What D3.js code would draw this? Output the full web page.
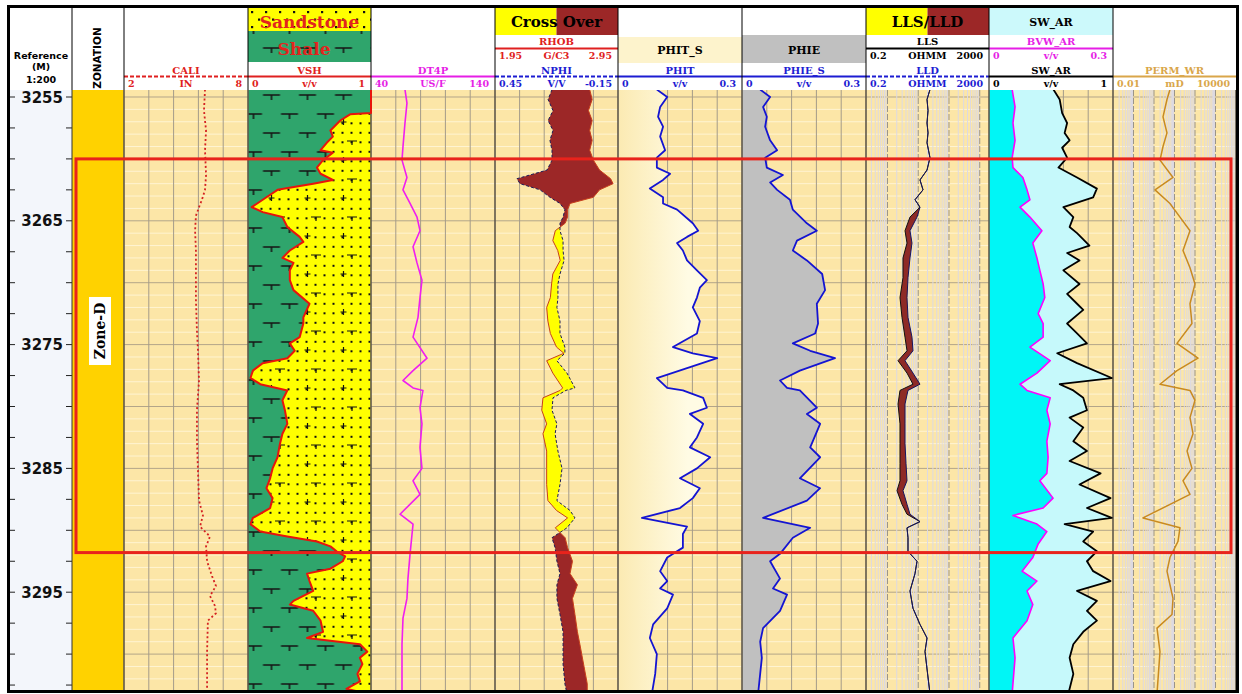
<!DOCTYPE html>
<html>
<head>
<meta charset="utf-8">
<title>Zone-D log plot</title>
<script src="https://cdn.jsdelivr.net/npm/d3@7/dist/d3.min.js"></script>
<style>
  body { margin: 0; background: #ffffff; }
  svg { display: block; }
  .serif { font-family: "DejaVu Serif", serif; font-weight: bold; }
  .sans { font-family: "DejaVu Sans", sans-serif; font-weight: bold; }
</style>
</head>
<body>
<div id="log"></div>
<script>
// ---- data (depth in m) ----
const depthLabels = [3255, 3265, 3275, 3285, 3295]
const zoneNames = ['Zone-D']
const zoneLabelDepth = [3273.9]
const redBoxTop = 3260.0, redBoxBase = 3291.8

const caliDepth = [3254.4,3256.1,3257.7,3259.3,3261.3,3262.5,3263.3,3263.9,3264.6,3265.8,3267.4,3269.0,3271.4,3273.9,3275.5,3277.9,3280.3,3282.8,3285.2,3287.6,3288.8,3289.7,3290.5,3291.3,3292.5,3293.7,3294.5,3295.3,3296.1,3296.7,3297.3,3299.8,3303.2]
const caliValue = [5.92,5.87,5.97,5.92,5.97,5.92,5.77,5.63,5.48,5.44,5.48,5.48,5.48,5.53,5.58,5.63,5.53,5.53,5.58,5.63,5.82,5.68,6.16,5.97,6.02,6.26,6.45,6.16,6.40,6.45,6.06,6.02,6.02]

const vshDepth = [3254.4,3256.3,3256.4,3256.9,3257.7,3258.2,3258.7,3259.3,3259.5,3260.1,3260.7,3261.2,3261.7,3262.0,3262.5,3263.1,3263.9,3264.3,3264.7,3265.5,3266.3,3266.7,3267.4,3268.0,3268.4,3269.0,3269.8,3270.6,3271.7,3272.8,3273.3,3274.4,3274.9,3275.5,3276.1,3276.5,3277.1,3277.7,3278.2,3278.7,3279.5,3280.3,3281.4,3282.2,3283.0,3284.1,3285.0,3285.8,3286.6,3287.4,3288.2,3289.0,3289.5,3290.1,3290.5,3290.9,3291.3,3291.7,3292.1,3292.5,3293.1,3293.5,3294.1,3294.9,3295.7,3296.0,3296.5,3297.3,3298.2,3298.7,3299.2,3299.8,3300.3,3300.8,3301.6,3302.2,3302.8,3303.2]
const vshValue = [1.0,1.0,0.83,0.75,0.67,0.69,0.64,0.59,0.69,0.61,0.56,0.59,0.69,0.53,0.24,0.15,0.03,0.12,0.28,0.32,0.42,0.45,0.34,0.28,0.37,0.34,0.34,0.37,0.50,0.45,0.45,0.42,0.34,0.38,0.32,0.12,0.04,0.02,0.10,0.32,0.28,0.30,0.32,0.28,0.26,0.24,0.20,0.18,0.15,0.20,0.18,0.04,0.02,0.10,0.32,0.56,0.67,0.72,0.79,0.77,0.67,0.48,0.50,0.53,0.37,0.34,0.53,0.59,0.61,0.48,0.91,0.97,0.91,0.93,0.89,0.91,0.80,0.97]

const dtDepth = [3254.4,3255.5,3257.1,3259.0,3260.1,3261.5,3262.5,3263.6,3264.7,3265.8,3267.1,3268.4,3269.8,3271.2,3272.8,3274.4,3276.1,3277.1,3277.9,3278.5,3278.7,3280.1,3281.4,3283.3,3285.0,3286.0,3287.1,3288.7,3289.5,3290.3,3291.9,3293.9,3295.5,3297.1,3299.2,3303.2]
const dtValue = [67.4,69.0,67.4,65.8,65.0,69.0,65.8,71.5,77.1,79.5,73.9,77.1,81.1,79.5,77.9,73.9,85.2,73.9,65.8,73.9,81.9,79.5,81.1,79.5,81.1,73.9,79.5,63.4,73.9,73.1,71.5,69.8,69.0,65.8,65.0,65.0]

const dnDepth = [3254.4,3255.2,3256.1,3256.9,3257.7,3258.5,3259.3,3260.1,3260.9,3261.6,3262.0,3262.5,3263.1,3263.6,3264.1,3264.7,3265.2,3265.8,3266.6,3267.4,3268.2,3269.3,3270.1,3271.2,3272.0,3273.1,3274.1,3275.2,3275.7,3276.3,3277.3,3278.5,3278.7,3279.3,3280.3,3281.4,3282.2,3283.6,3285.0,3286.3,3287.6,3288.4,3289.0,3289.8,3290.6,3291.4,3292.5,3293.5,3294.4,3295.5,3296.8,3298.2,3299.2,3300.8,3302.4,3303.2]
const rhobValue = [2.72,2.74,2.71,2.74,2.72,2.74,2.72,2.75,2.80,2.89,2.91,2.80,2.75,2.56,2.54,2.54,2.52,2.44,2.42,2.46,2.48,2.42,2.41,2.40,2.37,2.38,2.40,2.45,2.51,2.37,2.42,2.50,2.48,2.34,2.33,2.37,2.34,2.37,2.37,2.37,2.38,2.45,2.54,2.44,2.52,2.54,2.58,2.56,2.62,2.58,2.60,2.62,2.64,2.67,2.70,2.70]
const nphiValue = [0.172,0.191,0.167,0.191,0.167,0.182,0.172,0.172,0.196,0.343,0.328,0.230,0.182,0.133,0.109,0.118,0.133,0.133,0.118,0.118,0.113,0.133,0.143,0.143,0.148,0.133,0.133,0.109,0.109,0.148,0.099,0.060,0.104,0.167,0.172,0.148,0.157,0.143,0.123,0.133,0.148,0.084,0.060,0.099,0.172,0.157,0.148,0.133,0.148,0.148,0.133,0.118,0.118,0.118,0.109,0.099]

const phitDepth = [3254.4,3255.0,3255.8,3256.6,3257.4,3258.2,3259.3,3259.9,3260.7,3261.2,3261.7,3262.4,3263.1,3263.6,3264.1,3265.2,3265.8,3266.3,3266.8,3267.4,3268.2,3269.0,3269.8,3270.4,3271.2,3272.0,3273.1,3274.1,3275.2,3275.7,3276.1,3276.9,3277.7,3278.5,3278.7,3279.3,3280.1,3280.6,3281.4,3282.5,3283.3,3284.1,3285.0,3285.8,3286.6,3287.4,3288.2,3289.0,3289.7,3290.3,3291.4,3292.2,3293.3,3294.1,3294.7,3295.2,3296.3,3297.6,3298.7,3300.0,3301.6,3303.2]
const phitValue = [0.094,0.119,0.102,0.097,0.109,0.102,0.114,0.094,0.094,0.126,0.109,0.077,0.109,0.109,0.143,0.181,0.194,0.167,0.143,0.157,0.167,0.191,0.215,0.198,0.191,0.181,0.198,0.191,0.133,0.181,0.240,0.167,0.094,0.119,0.157,0.206,0.215,0.174,0.206,0.191,0.174,0.223,0.191,0.150,0.198,0.181,0.150,0.058,0.167,0.157,0.157,0.119,0.102,0.119,0.102,0.133,0.119,0.085,0.077,0.094,0.090,0.082]

const phieDepth = [3254.4,3255.0,3255.8,3256.6,3257.4,3258.5,3259.3,3259.9,3260.7,3261.3,3261.9,3262.5,3263.3,3264.1,3265.2,3265.8,3266.6,3267.4,3268.2,3269.3,3270.6,3271.7,3273.3,3274.1,3274.9,3275.5,3276.1,3277.1,3277.9,3278.5,3278.7,3280.1,3280.6,3281.4,3283.3,3284.1,3285.8,3286.6,3287.6,3289.0,3289.8,3290.6,3291.9,3292.5,3293.9,3294.7,3295.2,3296.5,3297.9,3299.0,3300.3,3303.2]
const phieValue = [0.044,0.068,0.051,0.060,0.056,0.068,0.085,0.056,0.060,0.099,0.068,0.085,0.116,0.123,0.157,0.181,0.133,0.123,0.157,0.194,0.201,0.181,0.184,0.177,0.123,0.165,0.225,0.140,0.092,0.109,0.140,0.181,0.157,0.189,0.165,0.189,0.140,0.189,0.157,0.051,0.165,0.123,0.092,0.068,0.092,0.075,0.109,0.092,0.051,0.044,0.048,0.039]

const resDepth = [3254.4,3255.2,3256.1,3257.1,3257.9,3258.7,3259.9,3260.9,3261.7,3262.5,3263.3,3263.9,3264.7,3265.8,3266.8,3268.0,3269.6,3271.2,3272.8,3274.4,3275.5,3276.3,3277.3,3278.2,3278.7,3279.8,3281.4,3283.0,3284.6,3286.0,3286.8,3287.9,3288.7,3289.3,3289.8,3290.6,3291.7,3292.5,3293.5,3294.9,3296.3,3297.6,3298.7,3299.8,3301.2,3303.2]
const llsValue = [24.1,19.3,20.8,19.3,20.8,19.3,24.1,19.3,11.4,14.3,7.84,11.4,5.39,3.71,4.31,3.19,3.19,2.55,2.96,3.71,4.31,2.20,4.31,6.74,2.55,2.20,2.55,2.55,2.55,2.55,2.04,2.96,4.31,11.4,4.31,4.64,4.64,9.12,7.84,5.39,6.74,11.4,19.3,16.6,19.3,24.1]
const lldValue = [24.1,19.3,20.8,19.3,20.8,19.3,24.1,19.3,11.4,14.3,7.84,11.4,9.12,5.39,6.26,5.39,4.64,4.31,4.64,6.26,6.74,3.71,6.74,11.4,4.64,3.71,3.71,3.71,4.00,4.31,3.19,4.31,5.39,11.4,4.31,4.64,4.64,9.12,7.84,5.39,6.74,11.4,19.3,16.6,19.3,24.1]

const bvwDepth = [3254.4,3255.8,3257.1,3258.5,3259.9,3260.7,3261.5,3262.5,3263.3,3263.9,3264.7,3265.8,3266.8,3268.0,3269.0,3270.1,3271.2,3272.5,3273.3,3274.4,3275.2,3276.3,3277.3,3278.2,3278.7,3279.3,3280.3,3281.4,3282.8,3284.1,3285.4,3286.0,3287.4,3288.2,3288.8,3289.5,3290.1,3291.1,3292.2,3293.3,3294.1,3294.9,3296.0,3297.3,3298.7,3300.3,3303.2]
const bvwValue = [0.056,0.063,0.058,0.063,0.056,0.058,0.082,0.092,0.099,0.075,0.099,0.128,0.106,0.116,0.123,0.131,0.135,0.119,0.131,0.131,0.099,0.148,0.116,0.075,0.092,0.148,0.140,0.148,0.140,0.143,0.140,0.123,0.155,0.131,0.058,0.116,0.140,0.119,0.106,0.080,0.116,0.092,0.106,0.092,0.058,0.063,0.056]

const swDepth = [3254.4,3255.2,3256.3,3257.1,3257.9,3258.5,3259.1,3259.9,3260.7,3261.5,3262.4,3263.1,3263.9,3264.7,3265.5,3266.0,3267.0,3267.6,3268.2,3269.0,3270.1,3270.9,3271.7,3272.2,3273.3,3274.1,3274.9,3275.7,3276.5,3277.7,3278.2,3278.7,3279.3,3280.3,3280.9,3281.7,3282.8,3283.6,3284.4,3285.4,3286.3,3287.4,3288.2,3289.0,3289.5,3290.1,3290.9,3291.7,3292.5,3293.3,3294.1,3294.9,3295.7,3296.5,3297.3,3298.2,3299.2,3300.3,3301.6,3303.2]
const swValue = [0.52,0.57,0.59,0.63,0.61,0.65,0.59,0.63,0.56,0.71,0.87,0.84,0.60,0.68,0.65,0.71,0.81,0.63,0.73,0.60,0.73,0.63,0.71,0.76,0.63,0.71,0.79,0.55,0.71,0.99,0.57,0.68,0.76,0.79,0.65,0.76,0.68,0.79,0.65,0.90,0.73,0.98,0.79,0.99,0.61,0.84,0.76,0.87,0.79,0.84,0.98,0.71,0.87,0.79,0.87,0.76,0.68,0.65,0.68,0.64]

const permDepth = [3254.4,3255.2,3256.6,3257.9,3259.0,3260.1,3261.5,3262.5,3263.6,3264.7,3265.8,3267.4,3268.8,3270.1,3271.7,3273.3,3274.9,3276.1,3277.1,3278.2,3278.7,3279.5,3280.9,3282.2,3283.6,3285.0,3286.0,3287.1,3289.0,3289.8,3290.9,3292.2,3293.3,3294.4,3295.5,3296.8,3297.9,3299.8,3303.2]
const permValue = [6.0,4.3,2.75,4.3,2.75,1.96,8.45,1.12,6.0,18.5,57,26,57,100,57,71,13.2,140,13.2,1.96,57,100,57,80,41,71,26,57,0.29,18.5,14.8,6.0,4.3,6.0,8.45,7.55,1.4,1.96,1.4]

// ---- layout ----
const width = 1242, height = 694
const dataTop = 90, dataBottom = 692
const edges = [124, 248, 371, 495, 618, 742, 866, 989, 1113, 1236]
const y = d3.scaleLinear().domain([3255, 3295]).range([97, 592.2])

const xCali = d3.scaleLinear().domain([2, 8]).range([edges[0], edges[1]])
const xVsh = d3.scaleLinear().domain([0, 1]).range([edges[1], edges[2]])
const xDt = d3.scaleLinear().domain([40, 140]).range([edges[2], edges[3]])
const xRhob = d3.scaleLinear().domain([1.95, 2.95]).range([edges[3], edges[4]])
const xNphi = d3.scaleLinear().domain([0.45, -0.15]).range([edges[3], edges[4]])
const xPhit = d3.scaleLinear().domain([0, 0.3]).range([edges[4], edges[5]])
const xPhie = d3.scaleLinear().domain([0, 0.3]).range([edges[5], edges[6]])
const xRes = d3.scaleLog().domain([0.2, 2000]).range([edges[6], edges[7]])
const xBvw = d3.scaleLinear().domain([0, 0.3]).range([edges[7], edges[8]])
const xSw = d3.scaleLinear().domain([0, 1]).range([edges[7], edges[8]])
const xPerm = d3.scaleLog().domain([0.01, 10000]).range([edges[8], edges[9]])

const pts = (ds, vs) => ds.map((d, i) => ({ d: d, v: vs[i] }))

const svg = d3.select('#log').append('svg').attr('width', width).attr('height', height)
const defs = svg.append('defs')

defs.append('clipPath').attr('id', 'dataClip').append('rect')
  .attr('x', 0).attr('y', dataTop).attr('width', width).attr('height', dataBottom - dataTop)

function makeShale(id, ox, oy) {
  const p = defs.append('pattern').attr('id', id).attr('patternUnits', 'userSpaceOnUse')
    .attr('x', ox).attr('y', oy).attr('width', 36).attr('height', 38)
  p.append('rect').attr('width', 36).attr('height', 38).attr('fill', '#2fa56c')
  p.append('path').attr('d', 'M9.5,5H26.5M18,5V10M-8.5,24H8.5M27.5,24H44.5M0,24V29M36,24V29')
    .attr('stroke', '#151515').attr('stroke-width', 1.6).attr('fill', 'none')
}
makeShale('shale', 253.5, dataTop)
makeShale('shaleHead', 253.5, 43)

const sand = defs.append('pattern').attr('id', 'sand').attr('patternUnits', 'userSpaceOnUse')
  .attr('x', edges[1]).attr('y', dataTop).attr('width', 36).attr('height', 38)
sand.append('rect').attr('width', 36).attr('height', 38).attr('fill', '#ffff00')
d3.range(4).forEach(i => d3.range(4).forEach(j => {
  sand.append('rect').attr('x', 3.5 + 9 * i).attr('y', 3.8 + 9.5 * j).attr('width', 2).attr('height', 2).attr('fill', '#111')
}))
sand.append('path').attr('d', 'M20.5,32H26.5M23.5,29V35M27,13H37M32,13V17M-9,13H1')
  .attr('stroke', '#111').attr('stroke-width', 1.2).attr('fill', 'none')

const sandHead = defs.append('pattern').attr('id', 'sandHead').attr('patternUnits', 'userSpaceOnUse')
  .attr('x', edges[1]).attr('y', 8).attr('width', 14).attr('height', 15)
sandHead.append('rect').attr('width', 14).attr('height', 15).attr('fill', '#ffff00')
sandHead.append('rect').attr('x', 3).attr('y', 3).attr('width', 2.2).attr('height', 2.2).attr('fill', '#111')
sandHead.append('rect').attr('x', 10).attr('y', 10.5).attr('width', 2.2).attr('height', 2.2).attr('fill', '#111')

const grad = defs.append('linearGradient').attr('id', 'phitGrad').attr('gradientUnits', 'userSpaceOnUse')
  .attr('x1', edges[4]).attr('x2', edges[4] + 70).attr('y1', 0).attr('y2', 0)
grad.append('stop').attr('offset', 0).attr('stop-color', '#fbeab2')
grad.append('stop').attr('offset', 1).attr('stop-color', '#fffbe4')

// ---- header ----
svg.append('rect').attr('x', 0).attr('y', 0).attr('width', width).attr('height', height).attr('fill', '#ffffff')
const hdr = svg.append('g')

hdr.append('text').attr('class', 'sans').attr('x', 41).attr('y', 59).attr('text-anchor', 'middle').attr('font-size', 9.5).text('Reference')
hdr.append('text').attr('class', 'sans').attr('x', 41).attr('y', 69.5).attr('text-anchor', 'middle').attr('font-size', 9.5).text('(M)')
hdr.append('text').attr('class', 'sans').attr('x', 41).attr('y', 83).attr('text-anchor', 'middle').attr('font-size', 9.5).text('1:200')
hdr.append('text').attr('class', 'sans').attr('transform', 'translate(101,58) rotate(-90)')
  .attr('text-anchor', 'middle').attr('font-size', 10.5).text('ZONATION')

// top boxes
hdr.append('rect').attr('x', edges[1]).attr('y', 8).attr('width', edges[2] - edges[1]).attr('height', 23).attr('fill', 'url(#sandHead)')
hdr.append('rect').attr('x', edges[1]).attr('y', 31).attr('width', edges[2] - edges[1]).attr('height', 31).attr('fill', 'url(#shaleHead)')
hdr.append('text').attr('class', 'serif').attr('x', 309.5).attr('y', 28).attr('text-anchor', 'middle')
  .attr('font-size', 17).attr('fill', '#e3241e').text('Sandstone')
hdr.append('text').attr('class', 'serif').attr('x', 304).attr('y', 55).attr('text-anchor', 'middle')
  .attr('font-size', 17).attr('fill', '#e3241e').text('Shale')

function splitBox(i, label) {
  const x0 = edges[i], x1 = edges[i + 1], mid = (x0 + x1) / 2
  hdr.append('rect').attr('x', x0).attr('y', 8).attr('width', mid - x0).attr('height', 27).attr('fill', '#ffff00')
  hdr.append('rect').attr('x', mid).attr('y', 8).attr('width', x1 - mid).attr('height', 27).attr('fill', '#9c2727')
  hdr.append('text').attr('class', 'serif').attr('x', mid).attr('y', 26.5).attr('text-anchor', 'middle')
    .attr('font-size', 15).attr('fill', '#000').text(label)
}
splitBox(3, 'Cross Over')
splitBox(6, 'LLS/LLD')

hdr.append('rect').attr('x', edges[7]).attr('y', 8).attr('width', edges[8] - edges[7]).attr('height', 27).attr('fill', '#ccf9fb')
hdr.append('text').attr('class', 'serif').attr('x', (edges[7] + edges[8]) / 2).attr('y', 25.5).attr('text-anchor', 'middle')
  .attr('font-size', 11).text('SW_AR')

hdr.append('rect').attr('x', edges[4]).attr('y', 37).attr('width', edges[5] - edges[4]).attr('height', 26).attr('fill', '#fdf3cc')
hdr.append('text').attr('class', 'serif').attr('x', (edges[4] + edges[5]) / 2).attr('y', 54).attr('text-anchor', 'middle')
  .attr('font-size', 11).text('PHIT_S')
hdr.append('rect').attr('x', edges[5]).attr('y', 35).attr('width', edges[6] - edges[5]).attr('height', 28).attr('fill', '#c0c0c0')
hdr.append('text').attr('class', 'serif').attr('x', (edges[5] + edges[6]) / 2).attr('y', 54).attr('text-anchor', 'middle')
  .attr('font-size', 11).text('PHIE')

function curveHeader(i, row, name, unit, lo, hi, color, dashed) {
  const x0 = edges[i], x1 = edges[i + 1], cx = (x0 + x1) / 2
  const nameY = row === 0 ? 45 : 73.5
  const lineY = row === 0 ? 48.5 : 76.5
  const valY = row === 0 ? 59 : 87
  hdr.append('text').attr('class', 'serif').attr('x', cx).attr('y', nameY).attr('text-anchor', 'middle')
    .attr('font-size', 10).attr('fill', color).text(name)
  hdr.append('line').attr('x1', x0).attr('x2', x1).attr('y1', lineY).attr('y2', lineY)
    .attr('stroke', color).attr('stroke-width', 2).attr('stroke-dasharray', dashed ? '4,2' : null)
  hdr.append('text').attr('class', 'serif').attr('x', x0 + 4).attr('y', valY).attr('font-size', 9.5).attr('fill', color).text(lo)
  hdr.append('text').attr('class', 'serif').attr('x', cx).attr('y', valY).attr('text-anchor', 'middle').attr('font-size', 9.5).attr('fill', color).text(unit)
  hdr.append('text').attr('class', 'serif').attr('x', x1 - 6).attr('y', valY).attr('text-anchor', 'end').attr('font-size', 9.5).attr('fill', color).text(hi)
}
const RED = '#df2020', MAG = '#e61ee6', BLUE = '#1c1cd2', GOLD = '#d9a64a'
curveHeader(0, 1, 'CALI', 'IN', '2', '8', RED, true)
curveHeader(1, 1, 'VSH', 'v/v', '0', '1', RED, false)
curveHeader(2, 1, 'DT4P', 'US/F', '40', '140', MAG, false)
curveHeader(3, 0, 'RHOB', 'G/C3', '1.95', '2.95', RED, false)
curveHeader(3, 1, 'NPHI', 'V/V', '0.45', '-0.15', BLUE, true)
curveHeader(4, 1, 'PHIT', 'v/v', '0', '0.3', BLUE, false)
curveHeader(5, 1, 'PHIE_S', 'v/v', '0', '0.3', BLUE, false)
curveHeader(6, 0, 'LLS', 'OHMM', '0.2', '2000', '#000', false)
curveHeader(6, 1, 'LLD', 'OHMM', '0.2', '2000', BLUE, true)
curveHeader(7, 0, 'BVW_AR', 'v/v', '0', '0.3', MAG, false)
curveHeader(7, 1, 'SW_AR', 'v/v', '0', '1', '#000', false)
curveHeader(8, 1, 'PERM_WR', 'mD', '0.01', '10000', GOLD, false)

// header separators
;[72].concat(edges.slice(0, 9)).forEach(x => {
  hdr.append('line').attr('x1', x).attr('x2', x).attr('y1', 7).attr('y2', dataTop).attr('stroke', '#000').attr('stroke-width', 1)
})

// ---- reference + zonation columns ----
const body = svg.append('g').attr('clip-path', 'url(#dataClip)')
body.append('rect').attr('x', 10).attr('y', dataTop).attr('width', 62).attr('height', dataBottom - dataTop).attr('fill', '#f3f6fb')
body.append('rect').attr('x', 72).attr('y', dataTop).attr('width', 52).attr('height', dataBottom - dataTop).attr('fill', '#ffd200')

d3.range(3255, 3305, 2.5).forEach(d => {
  body.append('line').attr('x1', 10).attr('x2', 15).attr('y1', y(d)).attr('y2', y(d)).attr('stroke', '#222').attr('stroke-width', 1)
  body.append('line').attr('x1', 66).attr('x2', 72).attr('y1', y(d)).attr('y2', y(d)).attr('stroke', '#222').attr('stroke-width', 1)
})
depthLabels.forEach(d => {
  body.append('text').attr('class', 'sans').attr('x', 63).attr('y', y(d) + 5.5).attr('text-anchor', 'end')
    .attr('font-size', 15).attr('fill', '#111').text(d)
})

zoneNames.forEach((z, i) => {
  const zy = y(zoneLabelDepth[i])
  body.append('rect').attr('x', 89).attr('y', zy - 34).attr('width', 22).attr('height', 68).attr('fill', '#ffffff')
  body.append('text').attr('class', 'serif').attr('transform', `translate(104.5,${zy}) rotate(-90)`)
    .attr('text-anchor', 'middle').attr('font-size', 14).text(z)
})

// ---- track grid ----
body.append('rect').attr('x', edges[0]).attr('y', dataTop).attr('width', edges[9] - edges[0])
  .attr('height', dataBottom - dataTop).attr('fill', '#fce6a7')
d3.range(3254, 3305).forEach(d => {
  body.append('line').attr('x1', edges[0]).attr('x2', edges[9]).attr('y1', y(d)).attr('y2', y(d))
    .attr('stroke', d % 5 === 0 ? '#b3a589' : '#fff4d2').attr('stroke-width', 1)
})
;[0, 1, 2, 3, 4, 5, 7].forEach(i => {
  const w = (edges[i + 1] - edges[i]) / 5
  d3.range(1, 5).forEach(k => {
    body.append('line').attr('x1', edges[i] + k * w).attr('x2', edges[i] + k * w).attr('y1', dataTop).attr('y2', dataBottom)
      .attr('stroke', '#a49b89').attr('stroke-width', 1)
  })
})
function logGrid(scale) {
  scale.ticks().forEach(t => {
    const major = Math.abs(Math.log10(t) - Math.round(Math.log10(t))) < 1e-6
    const x = scale(t)
    if (x <= scale.range()[0] + 0.5 || x >= scale.range()[1] - 0.5) return
    body.append('line').attr('x1', x).attr('x2', x).attr('y1', dataTop).attr('y2', dataBottom)
      .attr('stroke', major ? '#9a9488' : '#dcd9e2').attr('stroke-width', 1)
      .attr('stroke-dasharray', major ? '6,2' : null)
  })
}
logGrid(xRes)
logGrid(xPerm)

// ---- fills ----
const vshPts = pts(vshDepth, vshValue)
body.append('path').datum(vshPts).attr('fill', 'url(#shale)')
  .attr('d', d3.area().y(p => y(p.d)).x0(edges[1]).x1(p => xVsh(p.v)))
body.append('path').datum(vshPts).attr('fill', 'url(#sand)')
  .attr('d', d3.area().y(p => y(p.d)).x0(p => xVsh(p.v)).x1(edges[2]))

const dnPts = dnDepth.map((d, i) => ({ d: d, r: rhobValue[i], n: nphiValue[i] }))
defs.append('clipPath').attr('id', 'rhobLeft').append('path').datum(dnPts)
  .attr('d', d3.area().y(p => y(p.d)).x0(edges[3]).x1(p => xRhob(p.r)))
defs.append('clipPath').attr('id', 'nphiLeft').append('path').datum(dnPts)
  .attr('d', d3.area().y(p => y(p.d)).x0(edges[3]).x1(p => xNphi(p.n)))
body.append('path').datum(dnPts).attr('fill', '#9c2727').attr('clip-path', 'url(#rhobLeft)')
  .attr('d', d3.area().y(p => y(p.d)).x0(p => xNphi(p.n)).x1(edges[4]))
body.append('path').datum(dnPts).attr('fill', '#ffff00').attr('clip-path', 'url(#nphiLeft)')
  .attr('d', d3.area().y(p => y(p.d)).x0(p => xRhob(p.r)).x1(edges[4]))

const phitPts = pts(phitDepth, phitValue)
body.append('path').datum(phitPts).attr('fill', 'url(#phitGrad)')
  .attr('d', d3.area().y(p => y(p.d)).x0(edges[4]).x1(p => xPhit(p.v)))
const phiePts = pts(phieDepth, phieValue)
body.append('path').datum(phiePts).attr('fill', '#c0c0c0')
  .attr('d', d3.area().y(p => y(p.d)).x0(edges[5]).x1(p => xPhie(p.v)))

const resPts = resDepth.map((d, i) => ({ d: d, s: llsValue[i], l: lldValue[i] }))
body.append('path').datum(resPts).attr('fill', '#8e2a26')
  .attr('d', d3.area().y(p => y(p.d)).x0(p => xRes(p.s)).x1(p => xRes(p.l)))

const swPts = pts(swDepth, swValue)
const bvwPts = pts(bvwDepth, bvwValue)
body.append('path').datum(swPts).attr('fill', '#c6f9fb')
  .attr('d', d3.area().y(p => y(p.d)).x0(edges[7]).x1(p => xSw(p.v)))
body.append('path').datum(bvwPts).attr('fill', '#00f6f6')
  .attr('d', d3.area().y(p => y(p.d)).x0(edges[7]).x1(p => xBvw(p.v)))

// ---- track borders ----
edges.forEach(x => {
  body.append('line').attr('x1', x).attr('x2', x).attr('y1', dataTop).attr('y2', dataBottom)
    .attr('stroke', '#5f584c').attr('stroke-width', 1.6)
})
body.append('line').attr('x1', 72).attr('x2', 72).attr('y1', dataTop).attr('y2', dataBottom).attr('stroke', '#333').attr('stroke-width', 1)

// ---- curves ----
function curve(data, xs, color, w, dash) {
  body.append('path').datum(data).attr('fill', 'none').attr('stroke', color).attr('stroke-width', w)
    .attr('stroke-linejoin', 'round').attr('stroke-dasharray', dash || null)
    .attr('d', d3.line().y(p => y(p.d)).x(p => xs(p.v)))
}
curve(pts(caliDepth, caliValue), xCali, '#d42222', 1.8, '2,2.5')
curve(vshPts, xVsh, '#e8140c', 2)
curve(pts(dtDepth, dtValue), xDt, '#f01ef0', 1.6)
curve(pts(dnDepth, rhobValue), xRhob, '#c8401c', 1)
curve(pts(dnDepth, nphiValue), xNphi, '#1c1c5a', 1, '3,2')
curve(phitPts, xPhit, '#1414d2', 1.8)
curve(phiePts, xPhie, '#1414d2', 1.8)
curve(pts(resDepth, llsValue), xRes, '#111111', 1)
curve(pts(resDepth, lldValue), xRes, '#15155e', 1)
curve(bvwPts, xBvw, '#ff00ff', 1.6)
curve(swPts, xSw, '#000000', 1.8)
curve(pts(permDepth, permValue), xPerm, '#c98a1f', 1.5)

// ---- zone box ----
svg.append('rect').attr('x', 76).attr('y', y(redBoxTop)).attr('width', 1155).attr('height', y(redBoxBase) - y(redBoxTop))
  .attr('fill', 'none').attr('stroke', '#e8231c').attr('stroke-width', 3)

// ---- frame ----
svg.append('rect').attr('x', 8.5).attr('y', 6.5).attr('width', 1229).attr('height', 685)
  .attr('fill', 'none').attr('stroke', '#000').attr('stroke-width', 3)
</script>
</body>
</html>
